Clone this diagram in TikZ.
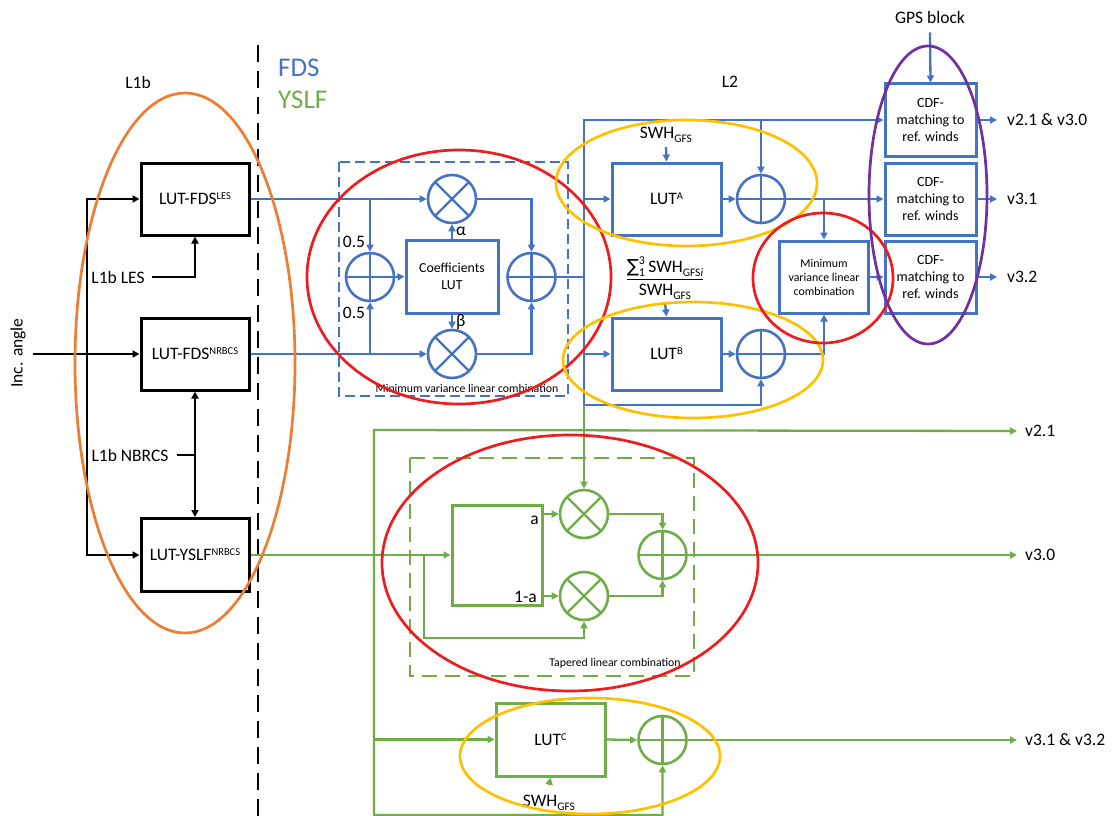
\documentclass[tikz,border=0pt]{standalone}
\usepackage{amsmath}
\usepackage{fontspec}
\setmainfont{Carlito}
\newfontfamily\djv{DejaVu Sans}
\usetikzlibrary{arrows.meta,calc}
\DeclareMathSizes{17.5}{17.5}{12.5}{9}

\definecolor{cblue}{HTML}{4472C4}
\definecolor{cgreen}{HTML}{70AD47}
\definecolor{cred}{HTML}{EE1C1C}
\definecolor{cyel}{HTML}{FFC000}
\definecolor{corange}{HTML}{ED7D31}
\definecolor{cpurple}{HTML}{7030A0}

\newcommand{\sups}[1]{\raisebox{0.62ex}{\fontsize{10.5}{10.5}\selectfont #1}}
\newcommand{\sbs}[1]{\raisebox{-0.45ex}{\fontsize{11.5}{11.5}\selectfont #1}}
\newcommand{\scr}[1]{\mbox{\fontsize{12}{12}\selectfont #1}}

\tikzset{
  txt/.style={font=\fontsize{17.5}{21}\selectfont, inner sep=0pt},
  small/.style={font=\fontsize{11.8}{14}\selectfont, inner sep=0pt},
  blk/.style={draw=black, line width=3pt, minimum width=108pt, minimum height=72pt, txt},
  bbox/.style={draw=cblue, line width=3pt, txt},
  gbox/.style={draw=cgreen, line width=3pt, txt},
  adder/.style={circle, draw=#1, line width=2.6pt, minimum size=48pt, inner sep=0pt,
    path picture={\draw[#1, line width=2.3pt] (path picture bounding box.north) -- (path picture bounding box.south)
      (path picture bounding box.west) -- (path picture bounding box.east);}},
  mult/.style={circle, draw=#1, line width=2.6pt, minimum size=48pt, inner sep=0pt,
    path picture={\draw[#1, line width=2.3pt] (path picture bounding box.north west) -- (path picture bounding box.south east)
      (path picture bounding box.north east) -- (path picture bounding box.south west);}},
  arr/.style={-{Triangle[length=7pt,width=7pt]}},
  tip2/.style={{Triangle[length=7pt,width=7pt]}-{Triangle[length=7pt,width=7pt]}},
  bl/.style={draw=cblue, line width=2.3pt},
  gl/.style={draw=cgreen, line width=2.3pt},
  kl/.style={draw=black, line width=2.7pt},
  ring/.style={line width=2.7pt},
}

\begin{document}
\begin{tikzpicture}[x=1pt,y=-1pt]
\useasboundingbox (0,0) rectangle (1112,816);

% ---------- headings ----------
\node[txt] (l1b) at (138,82) {L1b};
\node[txt, anchor=west, text=cblue, font=\fontsize{27}{30}\selectfont] (fds) at (278,68) {FDS};
\node[txt, anchor=west, text=cgreen, font=\fontsize{27}{30}\selectfont] (yslfh) at (278,100) {YSLF};
\node[txt] (l2) at (730,82) {L2};
\node[txt] (gps) at (930,17) {GPS block};

% ---------- dashed separator ----------
\coordinate (sepT) at (258,45);
\coordinate (sepB) at (258,816);
\draw[black, line width=2.7pt, dash pattern=on 17pt off 9pt] (sepT) -- (sepB);

% ---------- L1b part ----------
\node[blk] (les) at (195,199) {LUT-FDS\sups{LES}};
\node[blk] (nrbcs) at (195,354) {LUT-FDS\sups{NRBCS}};
\node[blk, minimum height=73pt] (yslf) at (195,555) {LUT-YSLF\sups{NRBCS}};

\node[txt, rotate=90] (inc) at (18,353) {Inc. angle};
\coordinate (incs) at (33,354);
\coordinate (jb) at (87,555);
\draw[kl,arr] (incs) -- (nrbcs.west);
\draw[kl,tip2] (les.west) -| (jb) -- (yslf.west);

\node[txt] (lesl) at (118,277) {L1b LES};
\draw[kl,arr] ([xshift=7pt]lesl.east) -| (les.south);

\node[txt] (nbl) at (130,455) {L1b NBRCS};
\draw[kl] ([xshift=8pt]nbl.east) -- (nbl.east -| nrbcs.south);
\draw[kl,tip2] (nrbcs.south) -- (yslf.north);

% ---------- FDS minimum variance block ----------
\node[mult=cblue] (m1) at (452,199) {};
\node[mult=cblue] (m2) at (452,354) {};
\node[adder=cblue] (a1) at (370,277) {};
\node[adder=cblue] (a2) at (531.5,277) {};
\node[bbox, minimum width=92pt, minimum height=73pt, align=center, font=\fontsize{13.8}{16.5}\selectfont] (coef) at (452,276.5) {Coefficients\\LUT};

\draw[bl,arr] (les.east) -- (m1.west);
\draw[bl,arr] (nrbcs.east) -- (m2.west);
\draw[bl,arr] (a1.north |- m1) -- (a1.north);
\draw[bl,arr] (a1.south |- m2) -- (a1.south);
\draw[bl,arr] (a1.east) -- (coef.west);
\draw[bl,arr] (coef.north) -- (m1.south) node[midway, right=3pt, txt] {α};
\draw[bl,arr] (coef.south) -- (m2.north) node[midway, right=3pt, txt] {β};
\draw[bl,arr] (m1.east) -| (a2.north);
\draw[bl,arr] (m2.east) -| (a2.south);
\node[txt] (h1) at (354,242) {0.5};
\node[txt] (h2) at (354,313) {0.5};

\draw[cblue, line width=2.7pt, dash pattern=on 10pt off 5pt] (339,162) rectangle (568,396);
\node[small] (mvcap) at (467,388) {Minimum variance linear combination};

% ---------- L2 FDS part ----------
\coordinate (vt) at (584,120);
\coordinate (vb) at (584,405);
\node[bbox, minimum width=109pt, minimum height=72pt] (lutA) at (666.5,199) {LUT\sups{A}};
\node[bbox, minimum width=109pt, minimum height=72pt] (lutB) at (666.5,354) {LUT\sups{B}};
\node[adder=cblue] (aA) at (761,199) {};
\node[adder=cblue] (aB) at (761,354) {};
\node[bbox, minimum width=89pt, minimum height=72pt, align=center, font=\fontsize{11.9}{14}\selectfont] (mvlc) at (824,277) {Minimum\\variance linear\\combination};

\node[bbox, minimum width=91pt, minimum height=72pt, align=center, font=\fontsize{14}{16.7}\selectfont] (cdf1) at (930.5,120) {CDF-\\matching to\\ref. winds};
\node[bbox, minimum width=91pt, minimum height=72pt, align=center, font=\fontsize{14}{16.7}\selectfont] (cdf2) at (930.5,199) {CDF-\\matching to\\ref. winds};
\node[bbox, minimum width=91pt, minimum height=72pt, align=center, font=\fontsize{14}{16.7}\selectfont] (cdf3) at (930.5,277) {CDF-\\matching to\\ref. winds};

\draw[bl] (a2.east) -- (a2.east -| vt);
\draw[bl,tip2] (cdf1.west) -| (vb) -| (aB.south);
\draw[bl,arr] (vt -| aA.north) -- (aA.north);
\draw[bl,arr] (lutA.west -| vt) -- (lutA.west);
\draw[bl,arr] (lutB.west -| vt) -- (lutB.west);

\node[txt] (swhA) at (666,135) {SWH\sbs{GFS}};
\draw[bl,arr] ([yshift=-4pt]swhA.south) -- (lutA.north);
\node[txt] (frac) at (665,278) {$\displaystyle\frac{\mbox{\djv\fontsize{18}{18}\selectfont ∑}_{\scr{1}}^{\scr{3}}\,\mbox{SWH\sbs{GFS\textit{i}}}}{\mbox{SWH\sbs{GFS}}}$};
\draw[bl,arr] ([yshift=-3pt]frac.south) -- (lutB.north);

\draw[bl,arr] (lutA.east) -- (aA.west);
\draw[bl,arr] (lutB.east) -- (aB.west);
\draw[bl,arr] (aA.east) -- (cdf2.west);
\draw[bl,arr] (aA.east -| mvlc.north) -- (mvlc.north);
\draw[bl,arr] (aB.east) -| (mvlc.south);
\draw[bl,arr] (mvlc.east) -- (cdf3.west);

\draw[bl,arr] ([yshift=-9pt]gps.south) -- (cdf1.north);
\node[txt, anchor=west] (o1) at (1007,120) {v2.1 \& v3.0};
\node[txt, anchor=west] (o2) at (1007,199) {v3.1};
\node[txt, anchor=west] (o3) at (1007,277) {v3.2};
\draw[bl,arr] (cdf1.east) -- ([xshift=-10pt]o1.west);
\draw[bl,arr] (cdf2.east) -- ([xshift=-10pt]o2.west);
\draw[bl,arr] (cdf3.east) -- ([xshift=-10pt]o3.west);

% ---------- YSLF part ----------
\coordinate (gt) at (374,430);
\coordinate (gbot) at (374,815);
\coordinate (tj) at (424,555);
\coordinate (tl) at (424,638);
\node[gbox, minimum width=90pt, minimum height=100pt] (tbox) at (497,555) {};
\node[txt] (la) at (534.5,520) {a};
\node[txt] (l1a) at (525.5,597) {1-a};
\node[mult=cgreen] (gm1) at (584,514) {};
\node[mult=cgreen] (gm2) at (584,596) {};
\node[adder=cgreen] (ga) at (662.5,555) {};
\node[gbox, minimum width=109pt, minimum height=73pt] (lutC) at (550.5,739.5) {LUT\sups{C}};
\node[adder=cgreen] (gc) at (662.5,740) {};
\node[txt] (swhC) at (549,803) {SWH\sbs{GFS}};

\node[txt, anchor=west] (o4) at (1025,431) {v2.1};
\node[txt, anchor=west] (o5) at (1025,555) {v3.0};
\node[txt, anchor=west] (o6) at (1025,740) {v3.1 \& v3.2};

\draw[gl,arr] (yslf.east) -- (tbox.west);
\draw[gl,arr] (tj) -- (tl) -| (gm2.south);
\draw[gl,arr] (vb) -- (gm1.north);
\draw[gl,arr] (tbox.east |- gm1) -- (gm1.west);
\draw[gl,arr] (tbox.east |- gm2) -- (gm2.west);
\draw[gl,arr] (gm1.east) -| (ga.north);
\draw[gl,arr] (gm2.east) -| (ga.south);
\draw[gl,arr] (ga.east) -- ([xshift=-8pt]o5.west);
\draw[gl,tip2] (gc.south) |- (gbot) -- (gt) -- ([xshift=-8pt]o4.west);
\draw[gl,arr] (lutC.west -| gt) -- (lutC.west);
\draw[gl,arr] (lutC.east) -- (gc.west);
\draw[gl,arr] (gc.east) -- ([xshift=-8pt]o6.west);
\draw[gl,arr] ([yshift=10pt]swhC.north) -- (lutC.south);

\draw[cgreen, line width=2.7pt, dash pattern=on 15pt off 8pt] (410,458) rectangle (694,676);
\node[small] (tcap) at (615,663) {Tapered linear combination};

% ---------- highlight ellipses ----------
\draw[corange, ring] (185,363) ellipse [x radius=110pt, y radius=270pt];
\draw[cred, ring] (459,277) ellipse [x radius=152pt, y radius=127pt];
\draw[cyel, ring] (686.5,183) ellipse [x radius=130.5pt, y radius=63pt];
\draw[cyel, ring] (693,360) ellipse [x radius=130pt, y radius=58pt];
\draw[cred, ring] (823,278) ellipse [x radius=70pt, y radius=65pt];
\draw[cpurple, ring] (928,195) ellipse [x radius=59pt, y radius=149pt];
\draw[cred, ring] (570,563) ellipse [x radius=188pt, y radius=128pt];
\draw[cyel, ring] (590,756) ellipse [x radius=130pt, y radius=58pt];
\end{tikzpicture}
\end{document}
